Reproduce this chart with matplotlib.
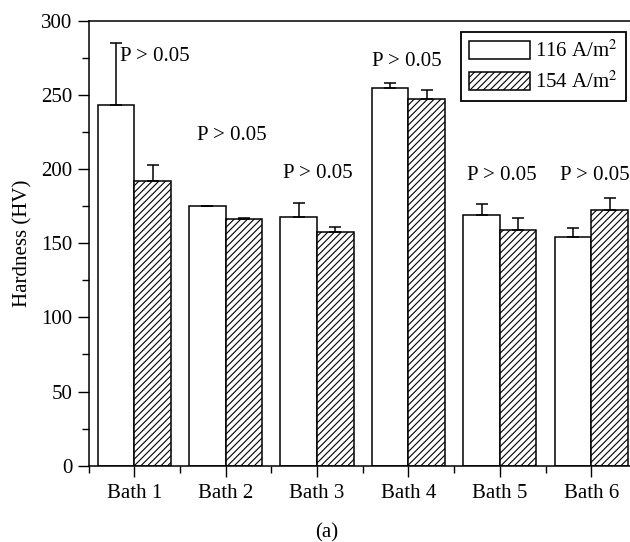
import matplotlib
matplotlib.use("Agg")
import matplotlib.pyplot as plt
from matplotlib.ticker import MultipleLocator, FixedLocator
import numpy as np

plt.rcParams['font.family'] = ['Liberation Serif', 'DejaVu Serif']
plt.rcParams['mathtext.fontset'] = 'stix'
plt.rcParams['hatch.linewidth'] = 0.8

# 数据
baths = ["Bath 1", "Bath 2", "Bath 3", "Bath 4", "Bath 5", "Bath 6"]
hv_116 = [243.5, 175.2, 167.7, 254.6, 169.3, 154.5]
err_116 = [42, 0, 9.5, 3.6, 7.4, 6]
hv_154 = [192, 166.2, 157.4, 247.6, 159.2, 172.7]
err_154 = [11, 1.2, 3.5, 6, 8, 7.7]
p_labels = ["P > 0.05"] * 6
p_x = [0.22, 1.07, 2.01, 2.98, 4.02, 5.04]
p_y = [276, 223, 197, 273, 196, 196]

fig = plt.figure(figsize=(6.3, 5.42), dpi=100)
ax = fig.add_axes([0.1405, 0.141, 0.8706, 0.820])

x = np.arange(len(baths))
w = 0.4
ax.bar(x - w / 2, hv_116, w, color="white", edgecolor="black", linewidth=1.1,
       label="116 A/m$^2$")
ax.bar(x + w / 2, hv_154, w, color="white", edgecolor="black", linewidth=1.1,
       hatch="/////", label="154 A/m$^2$")
ax.errorbar(x - w / 2, hv_116, yerr=[np.zeros(6), err_116], fmt="none",
            ecolor="black", elinewidth=1.1, capsize=4, capthick=1.1)
ax.errorbar(x + w / 2, hv_154, yerr=[np.zeros(6), err_154], fmt="none",
            ecolor="black", elinewidth=1.1, capsize=4, capthick=1.1)

# 显著性标注
for px, py, t in zip(p_x, p_y, p_labels):
    ax.text(px, py, t, ha="center", va="center", fontsize=15, clip_on=False)

ax.set_xlim(-0.5, 5.5)
ax.set_ylim(0, 300)
ax.set_xticks(x)
ax.set_xticklabels(baths, fontsize=15)
ax.xaxis.set_minor_locator(FixedLocator(np.arange(-0.5, 6, 1)))
ax.yaxis.set_major_locator(MultipleLocator(50))
ax.yaxis.set_minor_locator(MultipleLocator(25))
ax.tick_params(axis="both", which="major", direction="out", length=8, width=1,
               labelsize=15, top=False, right=False)
ax.tick_params(axis="both", which="minor", direction="out", length=5, width=1,
               top=False, right=False)
ax.tick_params(axis="x", pad=5)
for s in ax.spines.values():
    s.set_linewidth(1.1)
ax.set_ylabel("Hardness (HV)", fontsize=15, labelpad=6)

leg = ax.legend(loc="upper right", bbox_to_anchor=(0.98, 0.975), borderaxespad=0,
                fontsize=15, frameon=True, fancybox=False, edgecolor="black",
                framealpha=1, handlelength=2.9, handleheight=0.95,
                handletextpad=0.25, labelspacing=0.45, borderpad=0.4)
leg.get_frame().set_linewidth(1.3)

fig.text(0.519, 0.017, "(a)", ha="center", va="center", fontsize=15)

fig.savefig("out.png", dpi=100)
